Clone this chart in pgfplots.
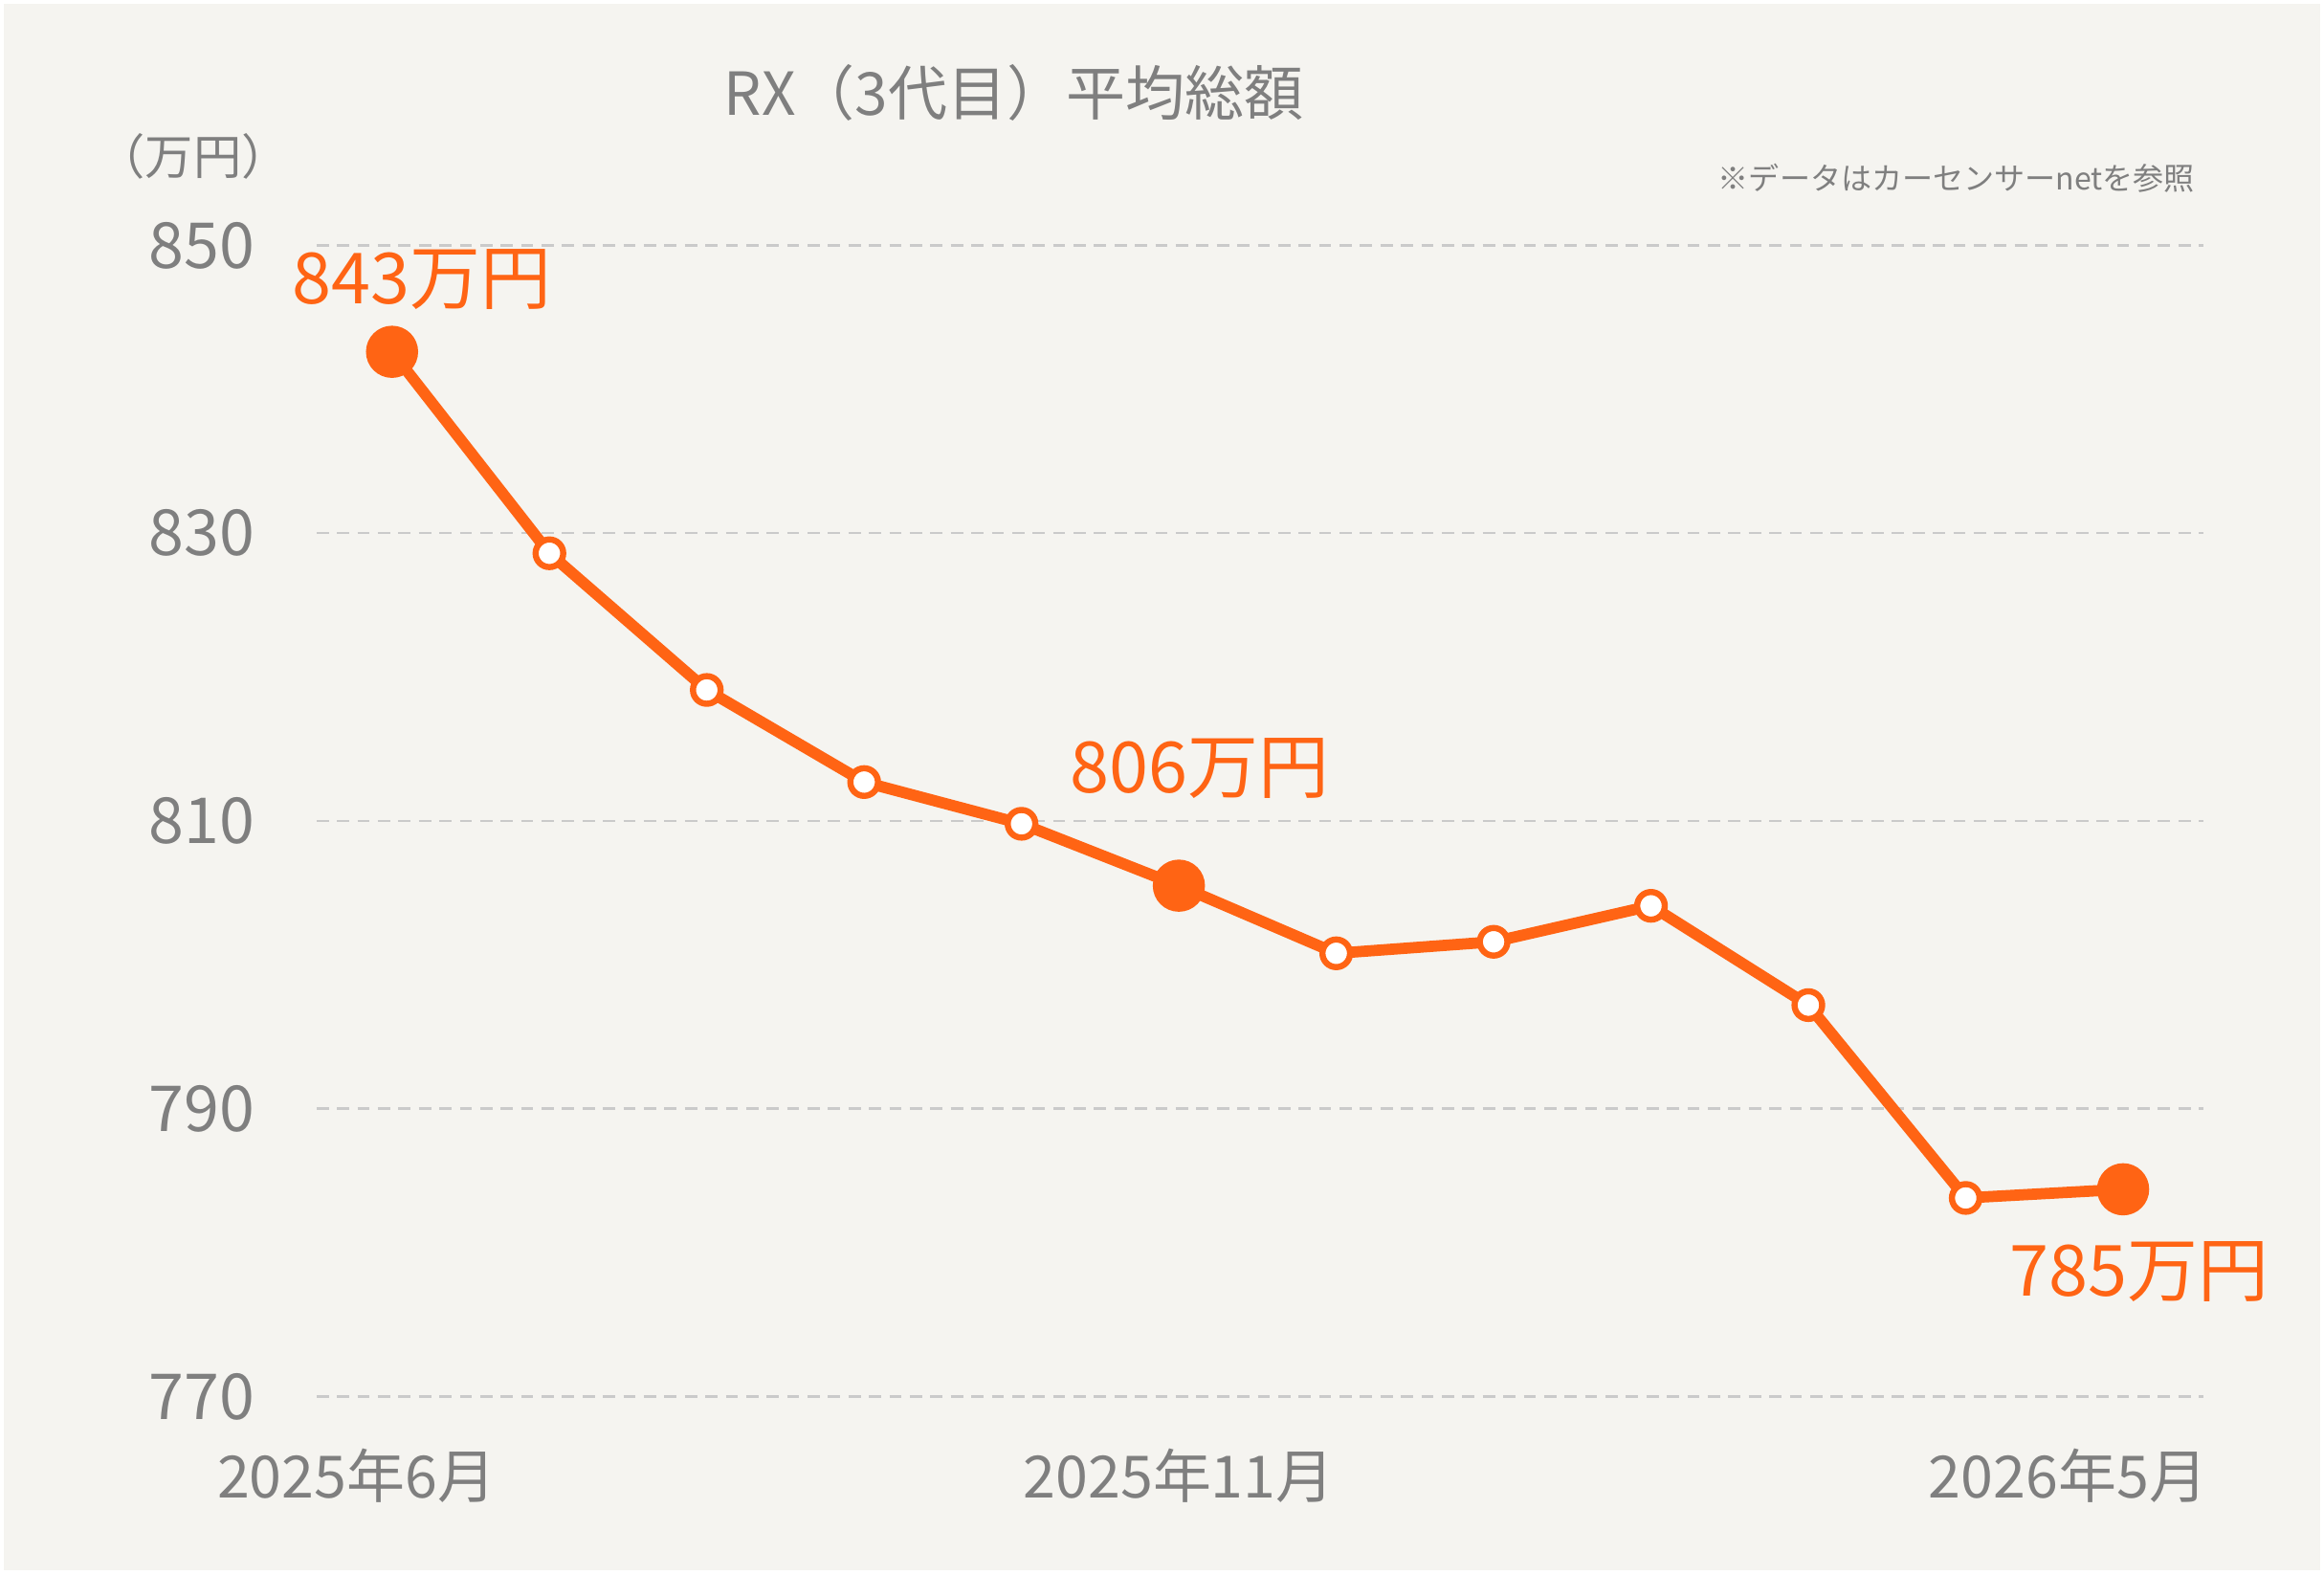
\documentclass[border=0pt]{standalone}
\usepackage{pgfplots}
\pgfplotsset{compat=1.18}
\usepackage{fontspec}
\setmainfont{Noto Sans CJK JP}
\definecolor{bg}{HTML}{F5F4F0}
\definecolor{txtgray}{HTML}{7F7F7F}
\definecolor{org}{HTML}{FF6414}
\definecolor{gridc}{HTML}{CACACA}
\begin{document}
\begin{tikzpicture}
\begin{scope}[x=0.29pt,y=0.29pt]
\fill[bg] (-213,-119.5) rectangle (1353,941);
\draw[white,line width=0.8pt] (-212,-118.5) rectangle (1352,940);
\end{scope}
\begin{axis}[
  scale only axis,
  width=368.88pt, height=225.04pt,
  xmin=-0.48, xmax=11.51,
  ymin=770, ymax=850,
  ytick={770,790,810,830,850},
  xtick={-0.226,5,10.65},
  xticklabels={2025年6月,2025年11月,2026年5月},
  axis line style={draw=none},
  major tick length=0pt,
  ymajorgrids,
  grid style={gridc, line width=0.5pt, dash pattern=on 2.4pt off 1.6pt},
  /pgf/number format/assume math mode=true,
  every tick label/.append style={txtgray, inner sep=0pt},
  yticklabel style={anchor=east, xshift=-11.9pt, font=\fontsize{12.4}{12}\selectfont},
  xticklabel style={anchor=north, yshift=-10pt, font=\fontsize{11.4}{12}\selectfont},
  clip=false,
]
\addplot[org, line width=2.2pt, no marks] coordinates {
(0,842.6) (1,828.6) (2,819.1) (3,812.7) (4,809.8) (5,805.5) (6,800.8) (7,801.6) (8,804.1) (9,797.2) (10,783.8) (11,784.4)
};
\addplot[only marks, mark=*, mark size=2.7pt, mark options={draw=org, fill=white, line width=1.2pt}] coordinates {
(1,828.6) (2,819.1) (3,812.7) (4,809.8) (6,800.8) (7,801.6) (8,804.1) (9,797.2) (10,783.8)
};
\addplot[only marks, mark=*, mark size=4.9pt, mark options={draw=org, fill=org}] coordinates {
(0,842.6) (5,805.5) (11,784.4)
};
\node[org, font=\fontsize{13.8}{14}\selectfont] at (axis cs:0,842.6) [xshift=5.8pt, yshift=14.2pt] {843万円};
\node[org, font=\fontsize{13.8}{14}\selectfont] at (axis cs:5,805.5) [xshift=4.1pt, yshift=22.9pt] {806万円};
\node[org, font=\fontsize{13.8}{14}\selectfont] at (axis cs:11,784.4) [xshift=3.2pt, yshift=-16.2pt] {785万円};
\end{axis}
\begin{scope}[x=0.29pt,y=0.29pt]
\node[txtgray, font=\fontsize{11.6}{12}\selectfont] at (470,879) {RX（3代目）平均総額};
\node[txtgray, font=\fontsize{9.4}{10}\selectfont] at (-83,836) {（万円）};
\node[txtgray, font=\fontsize{6}{7}\selectfont, anchor=east, inner sep=0pt] at (1267,821) {※データはカーセンサーnetを参照};
\end{scope}
\end{tikzpicture}
\end{document}
